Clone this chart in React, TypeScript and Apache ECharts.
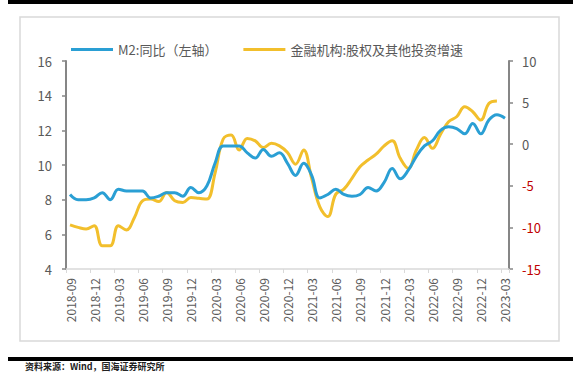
import React, { useEffect, useRef } from "react";
import * as echarts from "echarts";

const categories: string[] = [
  "2018-09", "2018-10", "2018-11", "2018-12",
  "2019-01", "2019-02", "2019-03", "2019-04", "2019-05", "2019-06", "2019-07", "2019-08", "2019-09", "2019-10", "2019-11", "2019-12",
  "2020-01", "2020-02", "2020-03", "2020-04", "2020-05", "2020-06", "2020-07", "2020-08", "2020-09", "2020-10", "2020-11", "2020-12",
  "2021-01", "2021-02", "2021-03", "2021-04", "2021-05", "2021-06", "2021-07", "2021-08", "2021-09", "2021-10", "2021-11", "2021-12",
  "2022-01", "2022-02", "2022-03", "2022-04", "2022-05", "2022-06", "2022-07", "2022-08", "2022-09", "2022-10", "2022-11", "2022-12",
  "2023-01", "2023-02", "2023-03",
];

const m2Yoy: number[] = [
  8.3, 8.0, 8.0, 8.1,
  8.4, 8.0, 8.6, 8.5, 8.5, 8.5, 8.1, 8.2, 8.4, 8.4, 8.2, 8.7,
  8.4, 8.8, 10.1, 11.1, 11.1, 11.1, 10.7, 10.4, 10.9, 10.5, 10.7, 10.1,
  9.4, 10.1, 9.4, 8.1, 8.3, 8.6, 8.3, 8.2, 8.3, 8.7, 8.5, 9.0,
  9.8, 9.2, 9.7, 10.5, 11.1, 11.4, 12.0, 12.2, 12.1, 11.8, 12.4, 11.8,
  12.6, 12.9, 12.7,
];

const equityInvGrowth: (number | null)[] = [
  -9.7, -10.0, -10.2, -9.8,
  -12.2, -12.2, -9.8, -10.3, -8.8, -6.8, -6.6, -6.9, -5.8, -6.8, -7.0, -6.4,
  -6.5, -6.6, -3.5, 0.6, 1.1, -0.7, 0.7, 0.4, -0.4, 0.1, -0.2, -1.0,
  -2.4, -0.7, -4.1, -7.5, -8.7, -6.0, -5.4, -4.1, -2.7, -1.9, -1.2, -0.2,
  0.4, -1.7, -2.9, -0.7, 0.8, -0.5, 1.2, 2.7, 3.3, 4.5, 3.9, 2.9,
  4.9, 5.2, null,
];

const seriesNames = ["M2:同比（左轴）", "金融机构:股权及其他投资增速"];
const sourceText = "资料来源：Wind，国海证券研究所";

const FONT = "'Noto Sans CJK SC', 'Noto Sans', sans-serif";

export default function App() {
  const ref = useRef<HTMLDivElement>(null);
  useEffect(() => {
    if (!ref.current) return;
    const chart = echarts.init(ref.current, undefined, { renderer: "svg" });
    chart.setOption({
      animation: false,
      backgroundColor: "#ffffff",
      textStyle: { fontFamily: FONT },
      graphic: [
        { type: "rect", shape: { x: 8, y: 0, width: 565, height: 4 }, style: { fill: "#000" }, z: 0 },
        { type: "rect", shape: { x: 20, y: 17, width: 539, height: 324 }, style: { fill: "none", stroke: "#d9d9d9", lineWidth: 1.5 }, z: 0 },
        { type: "rect", shape: { x: 8, y: 357, width: 565, height: 4 }, style: { fill: "#000" }, z: 0 },
        { type: "text", x: 25, y: 362, style: { text: sourceText, fill: "#222", fontSize: 9, fontFamily: FONT, fontWeight: "bold" }, z: 0 },
      ],
      legend: {
        left: 66,
        top: 38,
        icon: "rect",
        itemWidth: 42,
        itemHeight: 3,
        itemGap: 26,
        textStyle: { fontSize: 13, color: "#595959", fontFamily: FONT },
        data: seriesNames,
      },
      grid: { left: 66, right: 77, top: 61, bottom: 103, containLabel: false },
      xAxis: {
        type: "category",
        data: categories,
        boundaryGap: true,
        axisLine: { onZero: false, lineStyle: { color: "#d9d9d9", width: 1.5 } },
        axisTick: { show: true, interval: 2, length: 4, lineStyle: { color: "#d9d9d9" } },
        axisLabel: { interval: 2, rotate: 90, margin: 9, fontSize: 12, color: "#595959", fontFamily: FONT },
        splitLine: { show: false },
      },
      yAxis: [
        {
          type: "value",
          min: 4,
          max: 16,
          interval: 2,
          axisLine: { show: true, onZero: false, lineStyle: { color: "#868686", width: 2 } },
          axisTick: { show: true, length: 4, lineStyle: { color: "#868686", width: 1.5 } },
          axisLabel: { fontSize: 13, color: "#595959", margin: 14, fontFamily: FONT },
          splitLine: { show: false },
        },
        {
          type: "value",
          min: -15,
          max: 10,
          interval: 5,
          position: "right",
          axisLine: { show: true, onZero: false, lineStyle: { color: "#868686", width: 2 } },
          axisTick: { show: true, length: 4, lineStyle: { color: "#868686", width: 1.5 } },
          axisLabel: {
            fontSize: 13,
            margin: 13,
            fontFamily: FONT,
            formatter: (v: number) => (v < 0 ? `{r|${v}}` : `{k|${v}}`),
            rich: {
              r: { color: "#c00000", fontSize: 13, fontFamily: FONT },
              k: { color: "#595959", fontSize: 13, fontFamily: FONT },
            },
          },
          splitLine: { show: false },
        },
      ],
      series: [
        {
          name: seriesNames[0],
          type: "line",
          yAxisIndex: 0,
          data: m2Yoy,
          smooth: 0.4,
          symbol: "none",
          lineStyle: { color: "#2a9fd4", width: 3 },
          itemStyle: { color: "#2a9fd4" },
          z: 3,
        },
        {
          name: seriesNames[1],
          type: "line",
          yAxisIndex: 1,
          data: equityInvGrowth,
          smooth: 0.4,
          symbol: "none",
          lineStyle: { color: "#f2bf2c", width: 3 },
          itemStyle: { color: "#f2bf2c" },
          z: 2,
        },
      ],
    });
    return () => chart.dispose();
  }, []);
  return (
    <div
      ref={ref}
      style={{ position: "absolute", left: 0, top: 0, width: 586, height: 372 }}
    />
  );
}
